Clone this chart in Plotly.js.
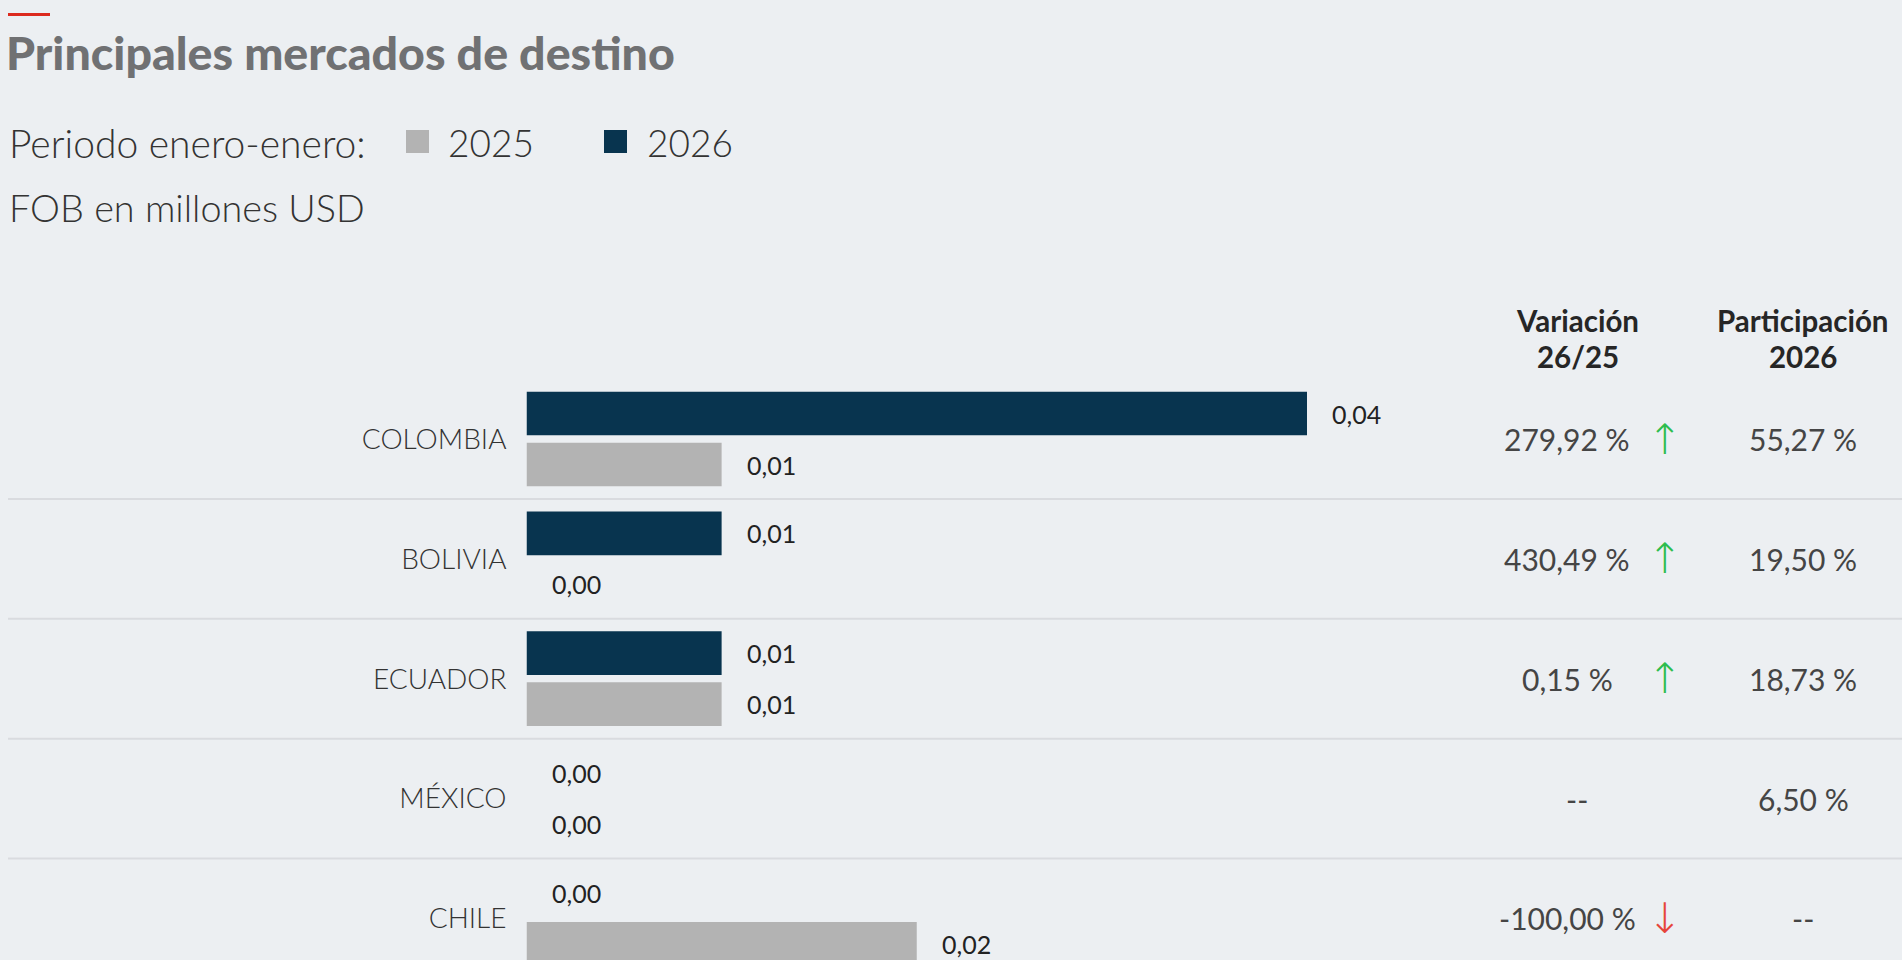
<!DOCTYPE html>
<html>
<head>
<meta charset="utf-8">
<script src="https://cdn.plot.ly/plotly-3.0.1.min.js"></script>
<style>
  html, body { margin: 0; padding: 0; background: #eceff2; }
  #chart { width: 1902px; height: 960px; }
</style>
</head>
<body>
<div id="chart"></div>
<script>
// ---- Data ----
const categories = ['COLOMBIA', 'BOLIVIA', 'ECUADOR', 'MÉXICO', 'CHILE'];
const seriesNames = ['2025', '2026'];
const fob2025 = [0.01, 0.00, 0.01, 0.00, 0.02];
const fob2026 = [0.04, 0.01, 0.01, 0.00, 0.00];
const variacion = [279.92, 430.49, 0.15, null, -100.00];
const participacion = [55.27, 19.50, 18.73, 6.50, null];

// ---- Styling ----
const W = 1902, H = 960;
const BG = '#eceff2';
const C2025 = '#b3b3b3';
const C2026 = '#08344f';
const px = v => v / W;          // x pixel -> paper
const py = v => 1 - v / H;      // y pixel (from top) -> paper
const fmt = v => v.toFixed(2).replace('.', ',');

const labelFont = { family: 'Lato', size: 25, color: '#222222', weight: 400 };
const numFont = { family: 'Lato', size: 30, color: '#454545', weight: 400 };
const headFont = { family: 'Lato', size: 29.5, color: '#262626', weight: 700 };
const legFont = { family: 'Lato', size: 37, color: '#333333', weight: 300 };

const traces = [
  {
    type: 'bar', orientation: 'h', name: seriesNames[1],
    y: categories, x: fob2026,
    marker: { color: C2026, line: { width: 0 } },
    hoverinfo: 'y+x'
  },
  {
    type: 'bar', orientation: 'h', name: seriesNames[0],
    y: categories, x: fob2025,
    marker: { color: C2025, line: { width: 0 } },
    hoverinfo: 'y+x'
  }
];

const annotations = [];
const shapes = [];

// value labels next to bars
const barShift = 25.5;
categories.forEach((c, i) => {
  annotations.push({
    xref: 'x', yref: 'y', x: fob2026[i], y: i, text: fmt(fob2026[i]),
    xanchor: 'left', yanchor: 'middle', xshift: 23, yshift: barShift,
    showarrow: false, font: labelFont
  });
  annotations.push({
    xref: 'x', yref: 'y', x: fob2025[i], y: i, text: fmt(fob2025[i]),
    xanchor: 'left', yanchor: 'middle', xshift: 23, yshift: -barShift,
    showarrow: false, font: labelFont
  });
  // variation column
  const v = variacion[i];
  if (v === null) {
    annotations.push({
      xref: 'paper', yref: 'y', x: px(1577), y: i, text: '--',
      xanchor: 'center', yanchor: 'middle', showarrow: false, font: numFont
    });
  } else {
    annotations.push({
      xref: 'paper', yref: 'y', x: px(1567), y: i, text: fmt(v) + ' %',
      xanchor: 'center', yanchor: 'middle', showarrow: false, font: numFont
    });
    annotations.push({
      xref: 'paper', yref: 'y', x: px(1664), y: i, text: v >= 0 ? '↑' : '↓',
      xanchor: 'center', yanchor: 'middle', showarrow: false,
      font: { family: 'DejaVu Sans', size: 42, weight: 200, color: v >= 0 ? '#2dbd4e' : '#e6453b' }
    });
  }
  // participation column
  const p = participacion[i];
  annotations.push({
    xref: 'paper', yref: 'y', x: px(1803), y: i, text: p === null ? '--' : fmt(p) + ' %',
    xanchor: 'center', yanchor: 'middle', showarrow: false, font: numFont
  });
  // separators
  if (i < categories.length - 1) {
    shapes.push({
      type: 'line', xref: 'paper', yref: 'y', x0: px(8), x1: 1, y0: i + 0.5, y1: i + 0.5,
      line: { color: '#d9dbdf', width: 2 }, layer: 'below'
    });
  }
});

// column headers
annotations.push(
  { xref: 'paper', yref: 'paper', x: px(1577.5), y: py(320.5), text: 'Variación', xanchor: 'center', yanchor: 'middle', showarrow: false, font: headFont, borderpad: 0 },
  { xref: 'paper', yref: 'paper', x: px(1577.5), y: py(356), text: '26/25', xanchor: 'center', yanchor: 'middle', showarrow: false, font: headFont, borderpad: 0 },
  { xref: 'paper', yref: 'paper', x: px(1802.5), y: py(320.5), text: 'Participación', xanchor: 'center', yanchor: 'middle', showarrow: false, font: headFont, borderpad: 0 },
  { xref: 'paper', yref: 'paper', x: px(1802.5), y: py(356), text: '2026', xanchor: 'center', yanchor: 'middle', showarrow: false, font: headFont, borderpad: 0 }
);

// legend line and subtitle
annotations.push(
  { xref: 'paper', yref: 'paper', x: px(8), y: py(142.5), text: 'Periodo enero-enero:', xanchor: 'left', yanchor: 'middle', showarrow: false, font: Object.assign({}, legFont, { size: 39 }), borderpad: 0 },
  { xref: 'paper', yref: 'paper', x: px(447), y: py(142.5), text: seriesNames[0], xanchor: 'left', yanchor: 'middle', showarrow: false, font: legFont, borderpad: 0 },
  { xref: 'paper', yref: 'paper', x: px(646), y: py(142.5), text: seriesNames[1], xanchor: 'left', yanchor: 'middle', showarrow: false, font: legFont, borderpad: 0 },
  { xref: 'paper', yref: 'paper', x: px(8), y: py(207.5), text: 'FOB en millones USD', xanchor: 'left', yanchor: 'middle', showarrow: false, font: Object.assign({}, legFont, { size: 37.8 }), borderpad: 0 }
);
shapes.push(
  { type: 'rect', xref: 'paper', yref: 'paper', x0: px(406), x1: px(429), y0: py(153), y1: py(130), fillcolor: C2025, line: { width: 0 } },
  { type: 'rect', xref: 'paper', yref: 'paper', x0: px(604), x1: px(627), y0: py(153), y1: py(130), fillcolor: C2026, line: { width: 0 } },
  // red accent line on top
  { type: 'rect', xref: 'paper', yref: 'paper', x0: px(8), x1: px(50), y0: py(16), y1: py(13), fillcolor: '#dc2a1e', line: { width: 0 } }
);

const layout = {
  width: W, height: H,
  margin: { l: 0, r: 0, t: 0, b: 0, pad: 0 },
  paper_bgcolor: BG, plot_bgcolor: BG,
  showlegend: false,
  title: {
    text: 'Principales mercados de destino',
    x: px(6), xref: 'paper', xanchor: 'left',
    y: py(54), yref: 'paper', yanchor: 'middle',
    font: { family: 'Lato', size: 46.5, weight: 900, color: '#707173' }
  },
  barmode: 'group', bargap: 0.149, bargroupgap: 0.143,
  xaxis: {
    domain: [px(526.5), px(1307)], range: [0, 0.04],
    visible: false, fixedrange: true
  },
  yaxis: {
    type: 'category', categoryorder: 'array', categoryarray: categories,
    domain: [0, 1], range: [4.347, -3.663],
    showgrid: false, zeroline: false, showline: false, ticks: '',
    ticklabelstandoff: 19, automargin: false, fixedrange: true,
    tickfont: { family: 'Lato', size: 28, weight: 300, color: '#333333' }
  },
  annotations: annotations,
  shapes: shapes
};

Plotly.newPlot('chart', traces, layout, { displayModeBar: false, staticPlot: false });
</script>
</body>
</html>
